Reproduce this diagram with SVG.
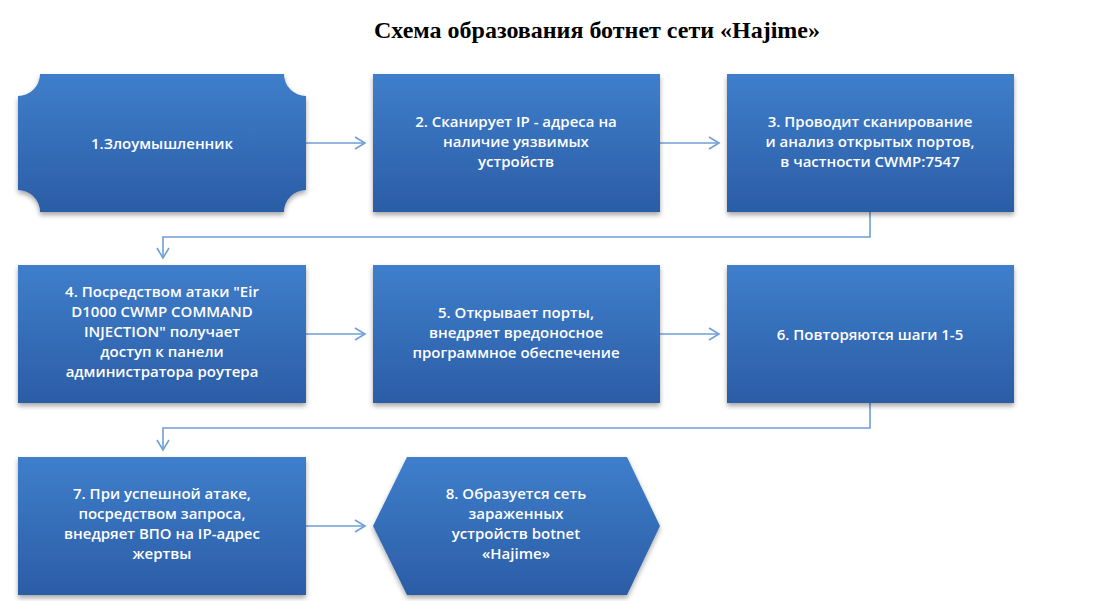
<svg xmlns="http://www.w3.org/2000/svg" width="1120" height="601" viewBox="0 0 1120 601">
<defs>
<linearGradient id="g" x1="0" y1="0" x2="0" y2="1"><stop offset="0" stop-color="#3f7ecb"/><stop offset="1" stop-color="#2b5da6"/></linearGradient>
<filter id="sh" x="-10%" y="-10%" width="120%" height="125%"><feDropShadow dx="0" dy="3" stdDeviation="2.5" flood-color="#000" flood-opacity="0.35"/></filter>
<marker id="ah" markerWidth="14" markerHeight="14" refX="11" refY="7" orient="auto" markerUnits="userSpaceOnUse"><path d="M1,1 L11,7 L1,13" fill="none" stroke="#6f9fd8" stroke-width="1.6"/></marker>
</defs>
<style>
.n{fill:url(#g);filter:url(#sh)}
.t{fill:#fff;font-family:"Open Sans","DejaVu Sans",sans-serif;font-size:15px;font-weight:600;text-anchor:middle}
.c{fill:none;stroke:#6f9fd8;stroke-width:1.6;marker-end:url(#ah)}
</style>
<rect width="1120" height="601" fill="#fff"/>
<text x="597" y="38" font-family="Liberation Serif,serif" font-weight="bold" font-size="24" text-anchor="middle">Схема образования ботнет сети «Hajime»</text>
<g id="connectors">
<path class="c" d="M306,143 H365"/>
<path class="c" d="M660,143 H719"/>
<path class="c" d="M870,212 V237 H163 V258"/>
<path class="c" d="M306,334 H365"/>
<path class="c" d="M660,334 H719"/>
<path class="c" d="M870,403 V428 H163 V450"/>
<path class="c" d="M306,526 H365"/>
</g>
<g id="n1"><path class="n" d="M40,74 H284 A22,22 0 0 0 306,96 V190 A22,22 0 0 0 284,212 H40 A22,22 0 0 0 18,190 V96 A22,22 0 0 0 40,74 Z"/>
<text class="t" x="162" y="149">1.Злоумышленник</text></g>
<g id="n2"><rect class="n" x="373" y="74" width="287" height="138"/>
<text class="t" x="516" y="127">2. Сканирует IP - адреса на</text><text class="t" x="516" y="147">наличие уязвимых</text><text class="t" x="516" y="167">устройств</text></g>
<g id="n3"><rect class="n" x="727" y="74" width="287" height="138"/>
<text class="t" x="870" y="127">3. Проводит сканирование</text><text class="t" x="870" y="147">и анализ открытых портов,</text><text class="t" x="870" y="167">в частности CWMP:7547</text></g>
<g id="n4"><rect class="n" x="18" y="265" width="288" height="138"/>
<text class="t" x="162" y="297">4. Посредством атаки  "Eir</text><text class="t" x="162" y="317">D1000 CWMP COMMAND</text><text class="t" x="162" y="337">INJECTION" получает</text><text class="t" x="162" y="357">доступ к панели</text><text class="t" x="162" y="377">администратора роутера</text></g>
<g id="n5"><rect class="n" x="373" y="265" width="287" height="138"/>
<text class="t" x="516" y="318">5. Открывает порты,</text><text class="t" x="516" y="338">внедряет вредоносное</text><text class="t" x="516" y="358">программное обеспечение</text></g>
<g id="n6"><rect class="n" x="727" y="265" width="287" height="138"/>
<text class="t" x="870" y="340">6. Повторяются шаги 1-5</text></g>
<g id="n7"><rect class="n" x="18" y="457" width="288" height="138"/>
<text class="t" x="162" y="499">7. При успешной атаке,</text><text class="t" x="162" y="519">посредством запроса,</text><text class="t" x="162" y="539">внедряет ВПО на IP-адрес</text><text class="t" x="162" y="559">жертвы</text></g>
<g id="n8"><path class="n" d="M407,457 H627 L660,526 L627,595 H407 L373,526 Z"/>
<text class="t" x="516" y="499">8. Образуется сеть</text><text class="t" x="516" y="519">зараженных</text><text class="t" x="516" y="539">устройств botnet</text><text class="t" x="516" y="559">«Hajime»</text></g>
</svg>
